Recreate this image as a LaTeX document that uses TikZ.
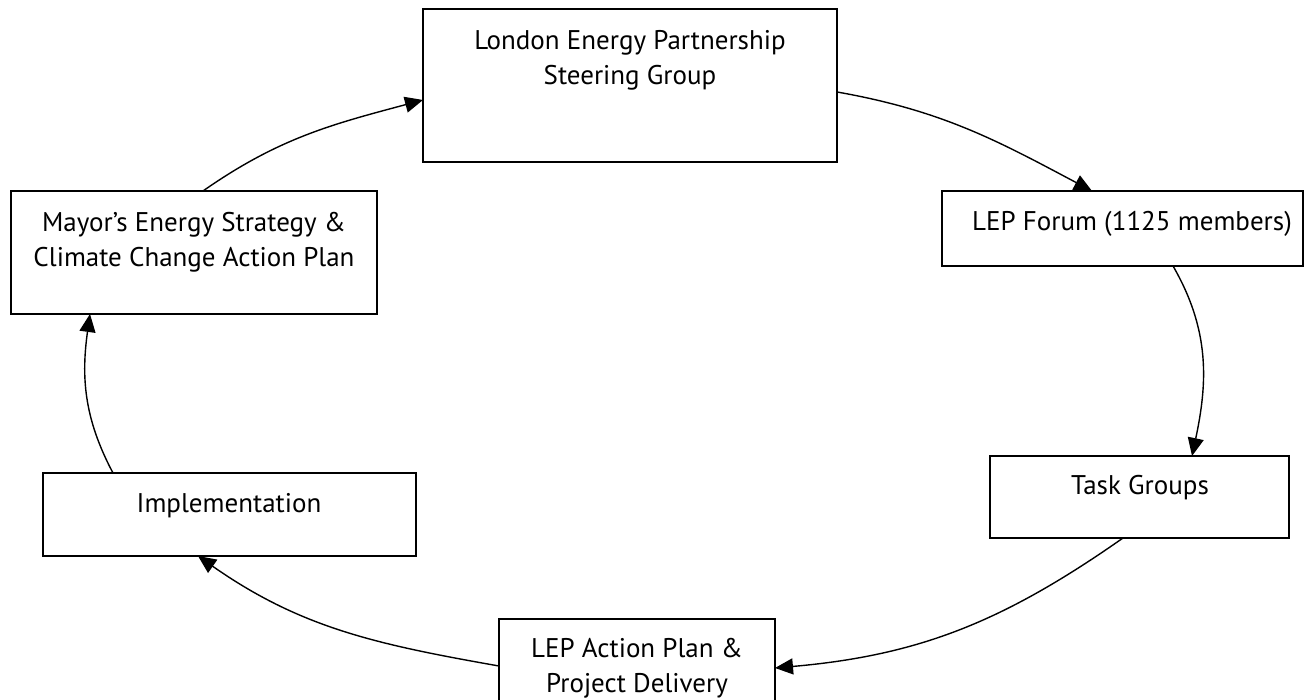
\documentclass[tikz,border=0pt]{standalone}
\usepackage{fontspec}
\setmainfont{PT Sans}
\usetikzlibrary{arrows.meta,calc}
\begin{document}
\begin{tikzpicture}[x=1pt,y=1pt,
  box/.style={draw,line width=1.4pt,inner sep=0pt,outer sep=0pt,rectangle},
  lbl/.style={align=center,inner sep=0pt,anchor=base,font=\fontsize{27}{35}\selectfont},
  conn/.style={line width=1.4pt,-{Triangle[length=18pt,width=16pt]}}]
\useasboundingbox (0,0) rectangle (1313,700);
% boxes
\node[box,minimum width=414pt,minimum height=153pt] (A) at (630,614.5) {};
\node[box,minimum width=361pt,minimum height=75pt] (B) at (1122.5,471.5) {};
\node[box,minimum width=299pt,minimum height=82pt] (C) at (1139.5,203) {};
\node[box,minimum width=276pt,minimum height=96pt] (D) at (637,33) {};
\node[box,minimum width=373pt,minimum height=83pt] (E) at (229.5,185.5) {};
\node[box,minimum width=366pt,minimum height=123pt] (F) at (194,447.5) {};
% texts (base = last line)
\node[lbl] (At) at (630,615) {London Energy Partnership\\Steering Group};
\node[lbl] (Bt) at (1132,469) {LEP Forum (1125 members)};
\node[lbl] (Ct) at (1140,205) {Task Groups};
\node[lbl] (Dt) at (637,7) {LEP Action Plan \&\\Project Delivery};
\node[lbl] (Et) at (229,187) {Implementation};
\node[lbl] (Ft) at (194,433) {Mayor’s Energy Strategy \&\\Climate Change Action Plan};
% connectors
\draw[conn] ($(A.east)+(0,-6.5)$) to[out=-10,in=152] ($(B.north)+(-30.5,0)$);
\draw[conn] ($(B.south)+(50.5,0)$) to[out=-60,in=78] ($(C.north)+(52.5,0)$);
\draw[conn] ($(C.south)+(-16.5,0)$) to[out=-145,in=5] ($(D.east)+(0,-1)$);
\draw[conn] ($(D.west)+(0,1)$) to[out=170,in=-35] ($(E.south)+(-31.5,0)$);
\draw[conn] ($(E.north)+(-116.5,0)$) to[out=118,in=-98] ($(F.south)+(-104,0)$);
\draw[conn] ($(F.north)+(9,0)$) to[out=35,in=195] ($(A.west)+(0,-14.5)$);
\end{tikzpicture}
\end{document}
